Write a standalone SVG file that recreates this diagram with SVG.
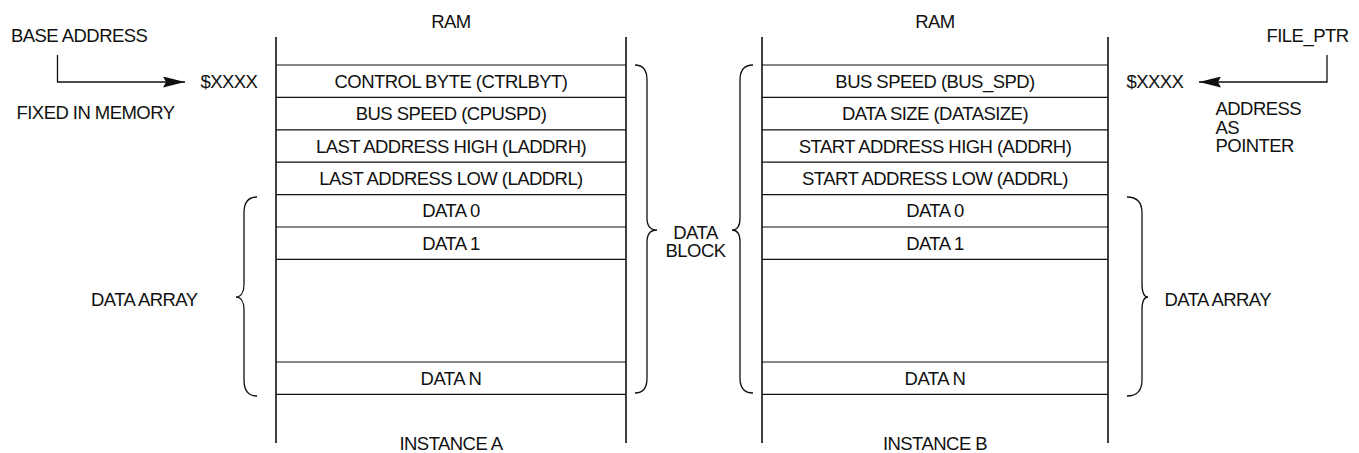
<svg xmlns="http://www.w3.org/2000/svg" width="1359" height="453" viewBox="0 0 1359 453">
<style>
text{font-family:"Liberation Sans",Arial,sans-serif;font-size:18.5px;letter-spacing:-0.55px;fill:#111}
.c{text-anchor:middle}
.e{text-anchor:end}
.v{stroke:#111;stroke-width:1.6;fill:none}
.h{stroke:#111;stroke-width:1.2;fill:none}
.b{stroke:#111;stroke-width:1.3;fill:none}
</style>
<defs>
<marker id="ah" markerWidth="22" markerHeight="11" refX="22" refY="5.5" orient="auto" markerUnits="userSpaceOnUse">
<path d="M0,0 L22,5.5 L0,11 L3,5.5 Z" fill="#111"/>
</marker>
</defs>
<rect width="1359" height="453" fill="#fff"/>

<g id="instanceA">
<text class="c" x="451" y="27.5">RAM</text>
<path class="v" d="M276,37 V443 M626,37 V443"/>
<path class="h" d="M276,65 H626 M276,97.4 H626 M276,129.8 H626 M276,162.2 H626 M276,194.6 H626 M276,227 H626 M276,259.4 H626 M276,362 H626 M276,394.4 H626"/>
<text class="c" x="451" y="87.8">CONTROL BYTE (CTRLBYT)</text>
<text class="c" x="451" y="120.2">BUS SPEED (CPUSPD)</text>
<text class="c" x="451" y="152.6">LAST ADDRESS HIGH (LADDRH)</text>
<text class="c" x="451" y="185">LAST ADDRESS LOW (LADDRL)</text>
<text class="c" x="451" y="217.4">DATA 0</text>
<text class="c" x="451" y="249.8">DATA 1</text>
<text class="c" x="451" y="384.8">DATA N</text>
<text class="c" x="451" y="449.5">INSTANCE A</text>
</g>

<g id="instanceB">
<text class="c" x="935" y="27.5">RAM</text>
<path class="v" d="M762,37 V443 M1108,37 V443"/>
<path class="h" d="M762,65 H1108 M762,97.4 H1108 M762,129.8 H1108 M762,162.2 H1108 M762,194.6 H1108 M762,227 H1108 M762,259.4 H1108 M762,362 H1108 M762,394.4 H1108"/>
<text class="c" x="935" y="87.8">BUS SPEED (BUS_SPD)</text>
<text class="c" x="935" y="120.2">DATA SIZE (DATASIZE)</text>
<text class="c" x="935" y="152.6">START ADDRESS HIGH (ADDRH)</text>
<text class="c" x="935" y="185">START ADDRESS LOW (ADDRL)</text>
<text class="c" x="935" y="217.4">DATA 0</text>
<text class="c" x="935" y="249.8">DATA 1</text>
<text class="c" x="935" y="384.8">DATA N</text>
<text class="c" x="935" y="449.5">INSTANCE B</text>
</g>

<g id="baseAddress">
<text x="11" y="41.5">BASE ADDRESS</text>
<text x="16.5" y="118.5">FIXED IN MEMORY</text>
<text x="200.5" y="88">$XXXX</text>
</g>

<g id="filePtr">
<text class="e" x="1348.5" y="41.5">FILE_PTR</text>
<text x="1126.5" y="88">$XXXX</text>
<text x="1215.5" y="115">ADDRESS</text>
<text x="1215.5" y="133.5">AS</text>
<text x="1215.5" y="152">POINTER</text>
</g>

<g id="dataArrayA">
<path class="b" d="M257,197 C248,197 244,202 244,213 L244,284 C244,292 241,297 236,297 C241,297 244,302 244,310 L244,380 C244,391 248,396 257,396"/>
<text x="91" y="305.5">DATA ARRAY</text>
</g>

<g id="dataBlock">
<path class="b" d="M635,65 C643,65 647,70 647,80 L647,218 C647,226 650,230 657,230 C650,230 647,234 647,242 L647,378 C647,388 643,393 635,393"/>
<path class="b" d="M753,65 C745,65 740,70 740,80 L740,218 C740,226 737,230 732,230 C737,230 740,234 740,242 L740,378 C740,388 745,393 753,393"/>
<text class="c" x="695.5" y="238.5">DATA</text>
<text class="c" x="695.5" y="257">BLOCK</text>
</g>

<g id="dataArrayB">
<path class="b" d="M1127,197 C1137,197 1142,202 1142,213 L1142,284 C1142,292 1144,297 1148,297 C1144,297 1142,302 1142,310 L1142,380 C1142,391 1137,396 1127,396"/>
<text x="1164.5" y="305.5">DATA ARRAY</text>
</g>

<g id="connectors">
<path class="b" d="M57.5,55 V82 H185" marker-end="url(#ah)"/>
<path class="b" d="M1327,55 V82 H1199" marker-end="url(#ah)"/>
</g>
</svg>
